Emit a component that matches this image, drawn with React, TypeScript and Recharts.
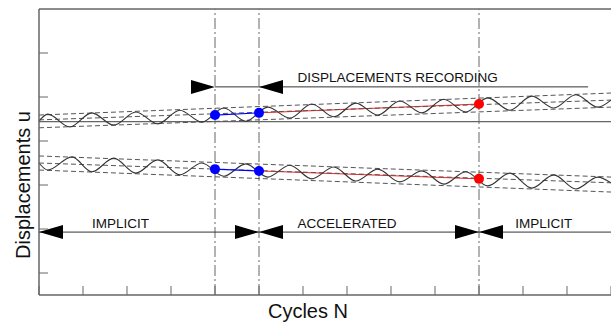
import React from 'react';
import { ComposedChart, Line, Scatter, XAxis, YAxis, ReferenceLine, Label } from 'recharts';

// axes: one tick per cycle, displacement ticks every unit
const xTicks = [0, 1, 2, 3, 4, 5, 6, 7, 8, 9, 10, 11, 12, 13];
const yTicks = [0.5, 1.5, 2.5, 3.5, 4.5, 5.5];

// stage boundaries (cycles)
const stageBounds = [4, 5, 10];

// upper oscillating response (peaks / troughs)
const upperWave = [
  { x: 0, y: 3.95 }, { x: 0.2, y: 4.11 }, { x: 0.7, y: 3.82 }, { x: 1.2, y: 4.14 }, { x: 1.7, y: 3.86 },
  { x: 2.2, y: 4.16 }, { x: 2.7, y: 3.89 }, { x: 3.2, y: 4.2 }, { x: 3.7, y: 3.93 }, { x: 4.2, y: 4.25 },
  { x: 4.7, y: 3.95 }, { x: 5.2, y: 4.27 }, { x: 5.7, y: 4.02 }, { x: 6.2, y: 4.34 }, { x: 6.7, y: 4.05 },
  { x: 7.2, y: 4.36 }, { x: 7.7, y: 4.09 }, { x: 8.2, y: 4.41 }, { x: 8.7, y: 4.14 }, { x: 9.2, y: 4.45 },
  { x: 9.7, y: 4.16 }, { x: 10.2, y: 4.48 }, { x: 10.7, y: 4.2 }, { x: 11.2, y: 4.52 }, { x: 11.7, y: 4.25 },
  { x: 12.2, y: 4.55 }, { x: 12.7, y: 4.27 }, { x: 13, y: 4.43 },
];

// lower oscillating response
const lowerWave = [
  { x: 0, y: 3.0 }, { x: 0.2, y: 2.84 }, { x: 0.75, y: 3.14 }, { x: 1.2, y: 2.8 }, { x: 1.7, y: 3.11 },
  { x: 2.2, y: 2.77 }, { x: 2.7, y: 3.07 }, { x: 3.2, y: 2.73 }, { x: 3.7, y: 3.0 }, { x: 4.2, y: 2.7 },
  { x: 4.7, y: 2.98 }, { x: 5.2, y: 2.68 }, { x: 5.7, y: 2.95 }, { x: 6.2, y: 2.64 }, { x: 6.7, y: 2.91 },
  { x: 7.2, y: 2.59 }, { x: 7.7, y: 2.86 }, { x: 8.2, y: 2.57 }, { x: 8.7, y: 2.82 }, { x: 9.2, y: 2.52 },
  { x: 9.7, y: 2.8 }, { x: 10.2, y: 2.48 }, { x: 10.7, y: 2.77 }, { x: 11.2, y: 2.43 }, { x: 11.7, y: 2.73 },
  { x: 12.2, y: 2.41 }, { x: 12.7, y: 2.68 }, { x: 13, y: 2.55 },
];

// dashed envelopes (max / mean / min)
const upperMax = [{ x: 0, y: 4.09 }, { x: 13, y: 4.59 }];
const upperMean = [{ x: 0, y: 3.98 }, { x: 13, y: 4.43 }];
const upperMin = [{ x: 0, y: 3.8 }, { x: 13, y: 4.27 }];
const lowerMax = [{ x: 0, y: 3.16 }, { x: 13, y: 2.68 }];
const lowerMean = [{ x: 0, y: 3.0 }, { x: 13, y: 2.55 }];
const lowerMin = [{ x: 0, y: 2.84 }, { x: 13, y: 2.34 }];

const initialLevel = 3.94;

// recorded points
const upperBlue = [{ x: 4, y: 4.09 }, { x: 5, y: 4.14 }];
const upperRed = [{ x: 5, y: 4.14 }, { x: 10, y: 4.34 }];
const lowerBlue = [{ x: 4, y: 2.86 }, { x: 5, y: 2.82 }];
const lowerRed = [{ x: 5, y: 2.82 }, { x: 10, y: 2.64 }];
const blueDots = [...upperBlue, ...lowerBlue];
const redDots = [{ x: 10, y: 4.34 }, { x: 10, y: 2.64 }];

// dimension arrows
const recordY = 4.73;
const stageY = 1.43;
const recordLineEnd = 12.48;
const arrowHeads = [
  { x: 4, y: recordY, dir: 'right' },
  { x: 5, y: recordY, dir: 'left' },
  { x: 0, y: stageY, dir: 'left' },
  { x: 5, y: stageY, dir: 'right' },
  { x: 5, y: stageY, dir: 'left' },
  { x: 10, y: stageY, dir: 'right' },
  { x: 10, y: stageY, dir: 'left' },
];

const annotations = [
  { x: 8.15, y: 4.84, text: 'DISPLACEMENTS RECORDING' },
  { x: 1.85, y: 1.52, text: 'IMPLICIT' },
  { x: 7.0, y: 1.52, text: 'ACCELERATED' },
  { x: 11.47, y: 1.52, text: 'IMPLICIT' },
];

const FONT = '"Liberation Sans", Arial, sans-serif';
const AXIS = '#666';

const XTick = (props: any) => {
  const { x, y } = props;
  return <line x1={x} x2={x} y1={y} y2={y - 9} stroke={AXIS} strokeWidth={1} />;
};

const YTick = (props: any) => {
  const { x, y } = props;
  return <line x1={x} x2={x + 9} y1={y} y2={y} stroke={AXIS} strokeWidth={1} />;
};

const ArrowHead = (props: any) => {
  const { cx, cy, payload } = props;
  const w = 24;
  const h = 7;
  const pts =
    payload.dir === 'right'
      ? `${cx},${cy} ${cx - w},${cy - h} ${cx - w},${cy + h}`
      : `${cx},${cy} ${cx + w},${cy - h} ${cx + w},${cy + h}`;
  return <polygon points={pts} fill="#000" />;
};

const Dot = (props: any) => <circle cx={props.cx} cy={props.cy} r={5} fill={props.fill} />;

const TextMark = (props: any) => {
  const { cx, cy, payload } = props;
  return (
    <text x={cx} y={cy} textAnchor="middle" fontFamily={FONT} fontSize={13.5} fill="#111">
      {payload.text}
    </text>
  );
};

const wave = { type: 'monotone' as const, dataKey: 'y', stroke: '#333', strokeWidth: 1.1, dot: false, isAnimationActive: false };
const dashed = { type: 'linear' as const, dataKey: 'y', stroke: '#555', strokeWidth: 1, strokeDasharray: '5 3', dot: false, isAnimationActive: false };

export default function App() {
  return (
    <div style={{ position: 'absolute', left: 0, top: 0, background: '#fff' }}>
      <ComposedChart width={611} height={324} margin={{ top: 9, right: 0, bottom: 0, left: 0 }}>
        <XAxis
          type="number"
          dataKey="x"
          domain={[0, 13]}
          ticks={xTicks}
          interval={0}
          height={29}
          tickSize={0}
          tickMargin={0}
          tickLine={false}
          tick={<XTick />}
          axisLine={{ stroke: AXIS, strokeWidth: 1.5 }}
        >
          <Label
            content={() => (
              <text x={308} y={318} textAnchor="middle" fontFamily={FONT} fontSize={20} fill="#111">
                Cycles N
              </text>
            )}
          />
        </XAxis>
        <YAxis
          type="number"
          dataKey="y"
          domain={[0, 6.5]}
          ticks={yTicks}
          interval={0}
          width={39}
          tickSize={0}
          tickMargin={0}
          tickLine={false}
          tick={<YTick />}
          axisLine={{ stroke: AXIS, strokeWidth: 1.5 }}
        >
          <Label
            content={() => (
              <text
                x={23}
                y={185}
                transform="rotate(-90, 23, 185)"
                textAnchor="middle"
                dominantBaseline="central"
                fontFamily={FONT}
                fontSize={20}
                fill="#111"
              >
                Displacements u
              </text>
            )}
          />
        </YAxis>

        <ReferenceLine y={6.5} stroke={AXIS} strokeWidth={1.5} />
        <ReferenceLine y={initialLevel} stroke="#666" strokeWidth={1.2} />
        {stageBounds.map((b) => (
          <ReferenceLine key={b} x={b} stroke="#666" strokeWidth={1} strokeDasharray="11 3 2 3" />
        ))}

        <ReferenceLine segment={[{ x: 4, y: recordY }, { x: recordLineEnd, y: recordY }]} stroke="#333" strokeWidth={1} />
        <ReferenceLine segment={[{ x: 0, y: stageY }, { x: 13, y: stageY }]} stroke="#333" strokeWidth={1} />

        <Line data={upperRed} type="linear" dataKey="y" stroke="#ff2020" strokeWidth={1} dot={false} isAnimationActive={false} />
        <Line data={lowerRed} type="linear" dataKey="y" stroke="#ff2020" strokeWidth={1} dot={false} isAnimationActive={false} />

        <Line data={upperMax} {...dashed} />
        <Line data={upperMean} {...dashed} />
        <Line data={upperMin} {...dashed} />
        <Line data={lowerMax} {...dashed} />
        <Line data={lowerMean} {...dashed} />
        <Line data={lowerMin} {...dashed} />

        <Line data={upperWave} {...wave} />
        <Line data={lowerWave} {...wave} />

        <Line data={upperBlue} type="linear" dataKey="y" stroke="#0000ff" strokeWidth={1.2} dot={false} isAnimationActive={false} />
        <Line data={lowerBlue} type="linear" dataKey="y" stroke="#0000ff" strokeWidth={1.2} dot={false} isAnimationActive={false} />

        <Scatter data={blueDots} dataKey="y" fill="#0000ff" shape={<Dot />} isAnimationActive={false} />
        <Scatter data={redDots} dataKey="y" fill="#ff0000" shape={<Dot />} isAnimationActive={false} />
        <Scatter data={arrowHeads} dataKey="y" shape={<ArrowHead />} isAnimationActive={false} />
        <Scatter data={annotations} dataKey="y" shape={<TextMark />} isAnimationActive={false} />
      </ComposedChart>
    </div>
  );
}
